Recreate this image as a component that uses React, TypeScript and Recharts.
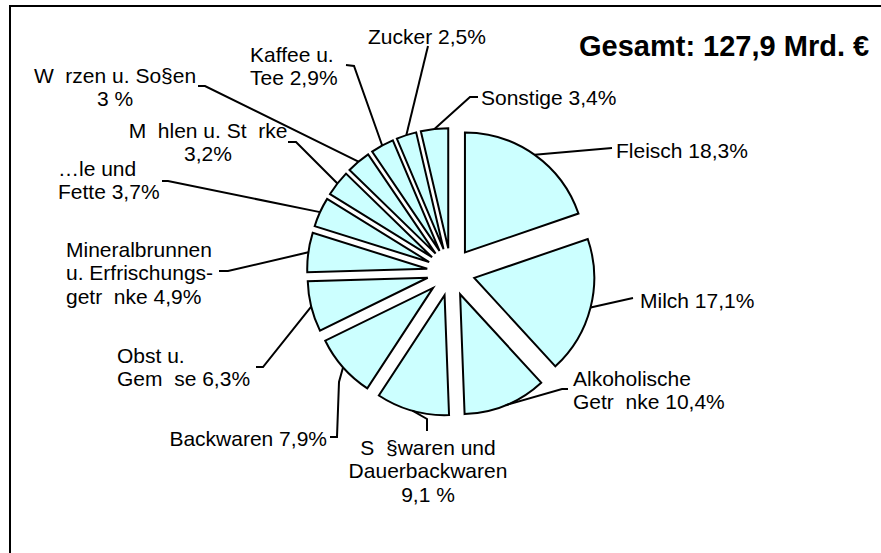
import { PieChart, Pie, Sector, Cell } from 'recharts';

// Anteile am Umsatz der Ernährungsindustrie, im Uhrzeigersinn ab 12 Uhr
const categories = [
  'Fleisch',
  'Milch',
  'Alkoholische Getränke',
  'Süßwaren und Dauerbackwaren',
  'Backwaren',
  'Obst u. Gemüse',
  'Mineralbrunnen u. Erfrischungsgetränke',
  'Öle und Fette',
  'Mühlen u. Stärke',
  'Würzen u. Soßen',
  'Kaffee u. Tee',
  'Zucker',
  'Sonstige',
];
const shares = [18.3, 17.1, 10.4, 9.1, 7.9, 6.3, 4.9, 3.7, 3.2, 3, 2.9, 2.5, 3.4];

// label text as it appears in the picture (umlauts lost in the original export)
const NB = '\u00A0\u00A0';
const labelText = [
  ['Fleisch 18,3%'],
  ['Milch 17,1%'],
  ['Alkoholische', `Getr${NB}nke 10,4%`],
  [`S${NB}§waren und`, 'Dauerbackwaren', '9,1 %'],
  ['Backwaren 7,9%'],
  ['Obst u.', `Gem${NB}se 6,3%`],
  ['Mineralbrunnen', 'u. Erfrischungs-', `getr${NB}nke 4,9%`],
  ['…le und', 'Fette 3,7%'],
  [`M${NB}hlen u. St${NB}rke`, '3,2%'],
  [`W${NB}rzen u. So§en`, '3 %'],
  ['Kaffee u.', 'Tee 2,9%'],
  ['Zucker 2,5%'],
  ['Sonstige 3,4%'],
];
const title = 'Gesamt: 127,9 Mrd. €';

const data = categories.map((name, i) => ({ name, value: shares[i] }));

// label placement, relative to the pie centre
type Spot = { path: [number, number][]; x: number; y: number; anchor: 'start' | 'middle' | 'end' };
const labelSpots: Spot[] = [
  { path: [[161, -124]], x: 165, y: -122, anchor: 'start' },
  { path: [[182, 26]], x: 189, y: 28, anchor: 'start' },
  { path: [[111, 117], [117, 117]], x: 122, y: 106, anchor: 'start' },
  { path: [[-24, 147], [-24, 159]], x: -23, y: 175, anchor: 'middle' },
  { path: [[-112, 110], [-114, 165], [-121, 165]], x: -124, y: 166, anchor: 'end' },
  { path: [[-188, 95], [-195, 95]], x: -334, y: 83, anchor: 'start' },
  { path: [[-223, -1], [-232, -1]], x: -385, y: -23, anchor: 'start' },
  { path: [[-283, -91], [-289, -91]], x: -393, y: -104, anchor: 'start' },
  { path: [[-155, -130], [-163, -130]], x: -243, y: -142, anchor: 'middle' },
  { path: [[-246, -186], [-253, -186]], x: -336, y: -197, anchor: 'middle' },
  { path: [[-97, -206], [-105, -207]], x: -201, y: -218, anchor: 'start' },
  { path: [[-23, -226]], x: -24, y: -236, anchor: 'middle' },
  { path: [[19, -175], [27, -175]], x: 30, y: -175, anchor: 'start' },
];

const RAD = Math.PI / 180;
const EXPLODE = 24;
const FONT = 'Liberation Sans, Arial, sans-serif';
const FONT_SIZE = 21;
const LINE_H = 23.5;

const polar = (cx: number, cy: number, r: number, angle: number) => ({
  x: cx + r * Math.cos(-angle * RAD),
  y: cy + r * Math.sin(-angle * RAD),
});

function ExplodedSector(props: any) {
  const { cx, cy, midAngle } = props;
  const p = polar(cx, cy, EXPLODE, midAngle);
  return <Sector {...props} cx={p.x} cy={p.y} />;
}

function renderLabel(props: any) {
  const { cx, cy, midAngle, outerRadius, index } = props;
  const spot = labelSpots[index];
  const lines = labelText[index];
  const start = polar(cx, cy, outerRadius + EXPLODE, midAngle);
  const pts = [[start.x, start.y], ...spot.path.map(([dx, dy]) => [cx + dx, cy + dy])];
  return (
    <g key={`lbl-${index}`}>
      <polyline
        points={pts.map((p) => p.join(',')).join(' ')}
        fill="none"
        stroke="#000"
        strokeWidth={2}
      />
      <text
        x={cx + spot.x}
        y={cy + spot.y}
        textAnchor={spot.anchor}
        fontFamily={FONT}
        fontSize={FONT_SIZE}
        fill="#000"
      >
        {lines.map((line, i) => (
          <tspan key={i} x={cx + spot.x} dy={i === 0 ? FONT_SIZE * 0.36 : LINE_H}>
            {line}
          </tspan>
        ))}
      </text>
    </g>
  );
}

export default function App() {
  return (
    <div
      style={{
        position: 'absolute',
        left: 0,
        top: 0,
        width: 881,
        height: 553,
        overflow: 'hidden',
        background: '#fff',
      }}
    >
      {/* chart frame, runs off the right and bottom edge */}
      <div
        style={{
          position: 'absolute',
          left: 9,
          top: 5,
          width: 900,
          height: 600,
          border: '2px solid #000',
        }}
      />
      <div
        style={{
          position: 'absolute',
          left: 579,
          top: 28,
          fontFamily: FONT,
          fontWeight: 'bold',
          fontSize: 29,
          lineHeight: '36px',
          whiteSpace: 'nowrap',
          color: '#000',
        }}
      >
        {title}
      </div>
      <div style={{ position: 'absolute', left: 0, top: 0 }}>
        <PieChart width={881} height={553} margin={{ top: 0, right: 0, bottom: 0, left: 0 }}>
          <Pie
            data={data}
            dataKey="value"
            nameKey="name"
            cx={451}
            cy={272}
            outerRadius={120}
            startAngle={90}
            endAngle={-270}
            stroke="#000"
            strokeWidth={2}
            shape={ExplodedSector}
            label={renderLabel}
            labelLine={false}
            isAnimationActive={false}
          >
            {data.map((d) => (
              <Cell key={d.name} fill="#CCFFFF" />
            ))}
          </Pie>
        </PieChart>
      </div>
    </div>
  );
}
